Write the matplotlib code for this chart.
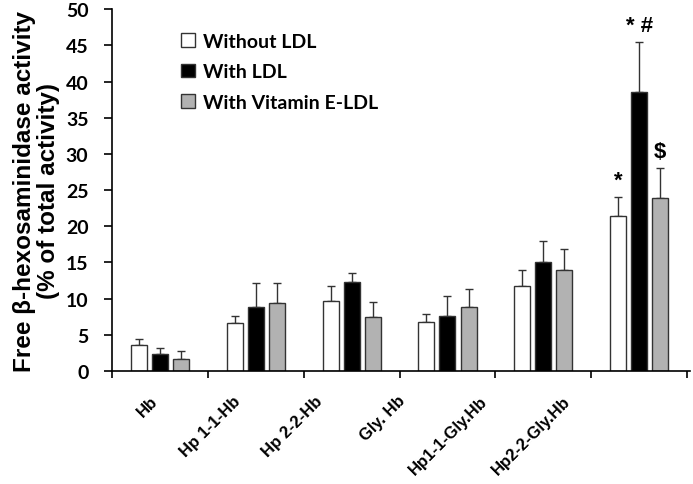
import numpy as np
import matplotlib
matplotlib.use('Agg')
import matplotlib.pyplot as plt
from matplotlib.ticker import FixedLocator, NullFormatter

# data
categories = ['Hb', 'Hp 1-1-Hb', 'Hp 2-2-Hb', 'Gly. Hb', 'Hp1-1-Gly.Hb', 'Hp2-2-Gly.Hb']
series_names = ['Without LDL', 'With LDL', 'With Vitamin E-LDL']
without_ldl = [3.6, 6.6, 9.7, 6.8, 11.7, 21.4]
with_ldl = [2.3, 8.8, 12.3, 7.6, 15.0, 38.5]
with_vite_ldl = [1.6, 9.4, 7.5, 8.9, 14.0, 23.9]
err_without = [0.8, 1.0, 2.0, 1.1, 2.3, 2.6]
err_with = [0.9, 3.3, 1.3, 2.7, 2.9, 6.9]
err_vite = [1.1, 2.7, 2.0, 2.5, 2.8, 4.1]
signif = {(5, 0): '*', (5, 1): '* #', (5, 2): '$'}

fig_w, fig_h = 6.93, 4.85
bar_w, bar_step = 0.167, 0.22
face_colors = ['white', 'black', '#b2b2b2']
edge_c = '#333333'

fig = plt.figure(figsize=(fig_w, fig_h), dpi=100)
ax = fig.add_axes([0.1616, 0.233, 0.834, 0.746])

x = np.arange(len(categories)) + 0.5
all_vals = [without_ldl, with_ldl, with_vite_ldl]
all_errs = [err_without, err_with, err_vite]
for k in range(3):
    xs = x + (k - 1) * bar_step
    vals = np.array(all_vals[k])
    errs = np.array(all_errs[k])
    ax.bar(xs, vals, width=bar_w, color=face_colors[k], edgecolor=edge_c,
           linewidth=1.0, label=series_names[k], zorder=2)
    ax.errorbar(xs, vals, yerr=[np.zeros_like(errs), errs], fmt='none',
                ecolor=edge_c, elinewidth=1.0, capsize=3, capthick=1.0, zorder=1)

for (i, k), txt in signif.items():
    top = all_vals[k][i] + all_errs[k][i]
    ax.text(x[i] + (k - 1) * bar_step, top + 0.9, txt, ha='center', va='bottom',
            fontsize=16, fontweight='bold', family='Liberation Sans')

ax.set_xlim(0, 6.03)
ax.set_ylim(0, 50)
ax.spines['top'].set_visible(False)
ax.spines['right'].set_visible(False)
ax.spines['left'].set_linewidth(1.2)
ax.spines['bottom'].set_linewidth(1.2)

ax.set_yticks(np.arange(0, 51, 5))
ax.tick_params(axis='y', direction='out', length=6, width=1.2, labelsize=14, pad=11)
for lbl in ax.get_yticklabels():
    lbl.set_fontweight('bold')
    lbl.set_family('Lato')

ax.xaxis.set_major_locator(FixedLocator(np.arange(0, 7)))
ax.xaxis.set_major_formatter(NullFormatter())
ax.tick_params(axis='x', direction='out', length=5, width=1.2)

# category labels (slightly compressed spacing like the original)
for i, name in enumerate(categories):
    ax.text(0.40 + i * 0.86, -0.06, name, rotation=45, ha='right', va='top',
            rotation_mode='anchor', fontsize=12, fontweight='bold',
            family='Liberation Sans',
            transform=ax.get_xaxis_transform())

ax.set_ylabel('Free \u03b2-hexosaminidase activity\n(% of total activity)',
              fontsize=17.5, fontweight='bold', family='Liberation Sans',
              linespacing=1.05, labelpad=4)

leg = ax.legend(loc='upper left', bbox_to_anchor=(0.12, 0.935), frameon=False,
                handlelength=0.7, handleheight=0.7, handletextpad=0.4,
                labelspacing=0.7, borderpad=0, borderaxespad=0,
                prop={'family': 'Lato', 'weight': 'bold', 'size': 14})
for h in leg.legend_handles:
    h.set_edgecolor('#333333')

plt.savefig('out.png', dpi=100)
